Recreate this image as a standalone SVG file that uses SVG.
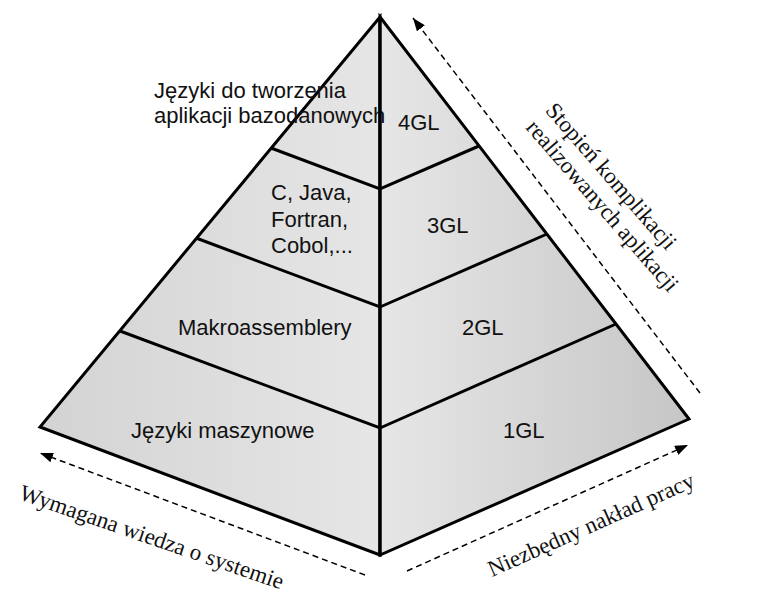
<svg xmlns="http://www.w3.org/2000/svg" width="759" height="600" viewBox="0 0 759 600">
<style>
.face{stroke:#000;stroke-width:3;stroke-linejoin:miter}
.lvl{fill:none;stroke:#000;stroke-width:3}
.sans{font-family:"Liberation Sans",Arial,sans-serif;font-size:22px;fill:#111}
.serif{font-family:"Liberation Serif","Times New Roman",serif;font-size:23px;fill:#111}
.dash{fill:none;stroke:#000;stroke-width:1.5;stroke-dasharray:6 4;marker-end:url(#ah)}
</style>
<defs>
<linearGradient id="gl" gradientUnits="userSpaceOnUse" x1="40" y1="0" x2="380" y2="0">
<stop offset="0" stop-color="#d3d3d3"/><stop offset="1" stop-color="#e6e6e6"/>
</linearGradient>
<linearGradient id="gr" gradientUnits="userSpaceOnUse" x1="380" y1="0" x2="689" y2="0">
<stop offset="0" stop-color="#e6e6e6"/><stop offset="1" stop-color="#c6c6c6"/>
</linearGradient>
<marker id="ah" markerUnits="userSpaceOnUse" markerWidth="14" markerHeight="10" refX="13" refY="5" orient="auto">
<path d="M0,0 L13,5 L0,10 z" fill="#000"/>
</marker>
</defs>
<rect width="759" height="600" fill="#fff"/>
<g id="pyramid">
<polygon class="face" points="380,17 40,427 380,555" fill="url(#gl)"/>
<polygon class="face" points="380,17 380,555 689,419" fill="url(#gr)"/>
</g>
<g id="level-4GL">
<text class="sans" x="154" y="98">Języki do tworzenia</text>
<text class="sans" x="154" y="123">aplikacji bazodanowych</text>
<text class="sans" x="398" y="130">4GL</text>
</g>
<g id="level-3GL">
<polyline class="lvl" points="271,148 380,189 479,146"/>
<text class="sans" x="271" y="200">C, Java,</text>
<text class="sans" x="271" y="227">Fortran,</text>
<text class="sans" x="271" y="253">Cobol,...</text>
<text class="sans" x="427" y="233">3GL</text>
</g>
<g id="level-2GL">
<polyline class="lvl" points="196,238 380,307 547,234"/>
<text class="sans" x="178" y="335">Makroassemblery</text>
<text class="sans" x="462" y="335">2GL</text>
</g>
<g id="level-1GL">
<polyline class="lvl" points="120,331 380,428 616,324"/>
<text class="sans" x="131" y="438">Języki maszynowe</text>
<text class="sans" x="503" y="438">1GL</text>
</g>
<line x1="380" y1="17" x2="380" y2="555" stroke="#000" stroke-width="3"/>
<g id="connectors">
<line class="dash" x1="365" y1="575" x2="40" y2="453"/>
<line class="dash" x1="407" y1="571" x2="688" y2="445"/>
<line class="dash" x1="700" y1="393" x2="413" y2="18"/>
</g>
<g id="axis-labels">
<text class="serif" transform="translate(18,499) rotate(19)">Wymagana wiedza o systemie</text>
<text class="serif" transform="translate(492,577) rotate(-24)">Niezbędny nakład pracy</text>
<text class="serif" transform="translate(525,128) rotate(49)"><tspan x="0" y="-26">Stopień komplikacji</tspan><tspan x="0" y="0">realizowanych aplikacji</tspan></text>
</g>
</svg>
